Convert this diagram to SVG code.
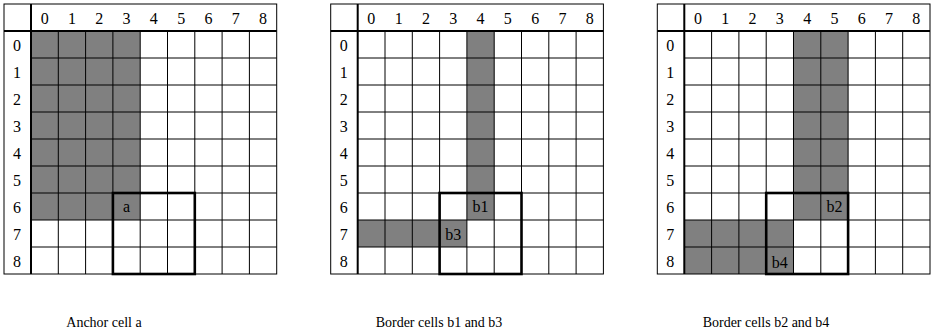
<svg xmlns="http://www.w3.org/2000/svg" width="933" height="335" viewBox="0 0 933 335">
<style>
.bg{fill:#ffffff}
.fill{fill:#808080;stroke:none}
.grid{stroke:#000;stroke-width:1;fill:none}
.hdr{stroke:#000;stroke-width:2;fill:none}
.box{stroke:#000;stroke-width:2.6;fill:none}
.num{font-size:16px;fill:#000;text-anchor:middle}
.lbl{font-size:16px;fill:#000;text-anchor:middle}
.cap{font-size:14px;fill:#000;text-anchor:middle}
</style>
<defs>
<g id="gridlines">
<path class="grid" d="M27,54H272.7M27,81H272.7M27,108H272.7M27,135H272.7M27,162H272.7M27,189H272.7M27,216H272.7M27,243H272.7M54.3,27V270M81.6,27V270M108.9,27V270M136.2,27V270M163.5,27V270M190.8,27V270M218.1,27V270M245.4,27V270"/>
<rect class="grid" x="0" y="0" width="272.7" height="270"/>
<path class="hdr" d="M27,0V270M0,27H272.7"/>
</g>
<g id="headers" font-family="'Liberation Serif', 'Times New Roman', Times, serif">
<text class="num" x="40.65" y="20">0</text>
<text class="num" x="67.95" y="20">1</text>
<text class="num" x="95.25" y="20">2</text>
<text class="num" x="122.55" y="20">3</text>
<text class="num" x="149.85" y="20">4</text>
<text class="num" x="177.15" y="20">5</text>
<text class="num" x="204.45" y="20">6</text>
<text class="num" x="231.75" y="20">7</text>
<text class="num" x="259.05" y="20">8</text>
<text class="num" x="13" y="47">0</text>
<text class="num" x="13" y="74">1</text>
<text class="num" x="13" y="101">2</text>
<text class="num" x="13" y="128">3</text>
<text class="num" x="13" y="155">4</text>
<text class="num" x="13" y="182">5</text>
<text class="num" x="13" y="209">6</text>
<text class="num" x="13" y="236">7</text>
<text class="num" x="13" y="263">8</text>
</g>
</defs>
<rect class="bg" x="0" y="0" width="933" height="335"/>
<g id="panel-anchor" transform="translate(4,4)" font-family="'Liberation Serif', 'Times New Roman', Times, serif">
<rect class="fill" x="27" y="27" width="109.2" height="189"/>
<use href="#gridlines"/>
<use href="#headers"/>
<rect class="box" x="108.9" y="189" width="81.9" height="81"/>
<text class="lbl" x="122.55" y="208">a</text>
</g>
<g id="panel-b1b3" transform="translate(330.7,4)" font-family="'Liberation Serif', 'Times New Roman', Times, serif">
<rect class="fill" x="136.2" y="27" width="27.3" height="189"/>
<rect class="fill" x="27" y="216" width="109.2" height="27"/>
<use href="#gridlines"/>
<use href="#headers"/>
<rect class="box" x="108.9" y="189" width="81.9" height="81"/>
<text class="lbl" x="149.85" y="208">b1</text>
<text class="lbl" x="122.55" y="236">b3</text>
</g>
<g id="panel-b2b4" transform="translate(657.3,4)" font-family="'Liberation Serif', 'Times New Roman', Times, serif">
<rect class="fill" x="136.2" y="27" width="54.6" height="189"/>
<rect class="fill" x="27" y="216" width="109.2" height="54"/>
<use href="#gridlines"/>
<use href="#headers"/>
<rect class="box" x="108.9" y="189" width="81.9" height="81"/>
<text class="lbl" x="177.15" y="208">b2</text>
<text class="lbl" x="122.55" y="264">b4</text>
</g>
<g id="captions" font-family="'Liberation Serif', 'Times New Roman', Times, serif">
<text class="cap" x="104" y="327">Anchor cell a</text>
<text class="cap" x="439" y="327">Border cells b1 and b3</text>
<text class="cap" x="766" y="327">Border cells b2 and b4</text>
</g>
</svg>
